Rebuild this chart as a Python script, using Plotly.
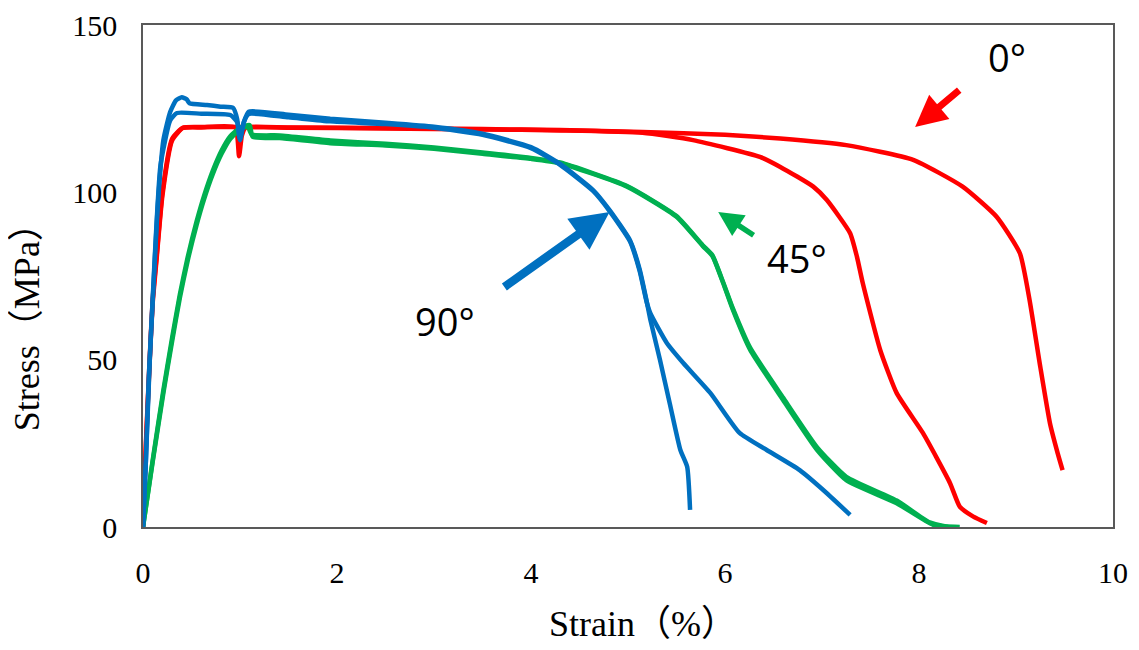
import plotly.graph_objects as go

# ---- data ----
red_a_x = [0, 0.03, 0.07, 0.10, 0.14, 0.20, 0.30, 0.41, 0.6, 1.0, 1.5, 2.5, 3.5, 4.3, 5.15, 6.0, 6.57, 7.25, 7.94, 8.45, 8.80, 9.04, 9.14, 9.25, 9.35, 9.43, 9.48]
red_a_y = [0, 25, 50.9, 68, 80.8, 100, 116, 119.3, 119.5, 119.5, 119.4, 119.2, 118.9, 118.6, 118.0, 117.2, 116.1, 114.1, 109.7, 101.7, 92.7, 81.8, 67.8, 47.9, 31.0, 22, 17.0]

red_b_x = [0, 0.03, 0.07, 0.10, 0.14, 0.20, 0.30, 0.41, 0.6, 0.95, 0.99, 1.02, 1.06, 1.5, 2.5, 3.5, 4.3, 5.15, 5.67, 6.36, 6.57, 6.91, 7.05, 7.29, 7.36, 7.42, 7.60, 7.77, 8.04, 8.32, 8.42, 8.56, 8.70]
red_b_y = [0, 24, 50, 67, 80, 99, 115.5, 119.2, 119.4, 119.4, 110.8, 117, 119.4, 119.3, 119.1, 118.8, 118.5, 117.8, 115.6, 110.6, 107.6, 101.7, 97.7, 87.8, 80.8, 72.9, 52.9, 40.0, 28.1, 13.1, 6.1, 3.1, 1.2]

blue_a_x = [0, 0.03, 0.06, 0.106, 0.15, 0.21, 0.28, 0.34, 0.40, 0.45, 0.48, 0.66, 0.80, 0.93, 0.97, 1.0, 1.04, 1.09, 1.5, 1.93, 2.5, 3.0, 3.5, 4.0, 4.3, 4.64, 4.81, 5.02, 5.12, 5.19, 5.23, 5.33, 5.43, 5.54, 5.61, 5.64]
blue_a_y = [0, 20, 45, 70.8, 95, 115.6, 124, 127.5, 128.4, 127.8, 126.6, 126.1, 125.6, 125.2, 122, 115.6, 121, 124.1, 123.2, 122.0, 120.8, 119.6, 117.5, 113.5, 108.5, 100.7, 94.7, 85.7, 77, 67.8, 62, 49.9, 37.0, 23.0, 18.0, 5.1]

blue_b_x = [0, 0.03, 0.07, 0.12, 0.18, 0.28, 0.35, 0.6, 0.9, 0.97, 1.0, 1.04, 1.09, 1.5, 1.93, 2.5, 3.0, 3.5, 4.0, 4.3, 4.64, 4.81, 5.02, 5.12, 5.19, 5.23, 5.40, 5.57, 5.85, 6.15, 6.43, 6.77, 7.05, 7.29]
blue_b_y = [0, 20, 50, 80, 108, 121.5, 123.7, 123.5, 123.1, 121, 116, 121, 123.4, 122.4, 121.2, 120.4, 119.3, 117.2, 113.2, 108.2, 100.4, 94.4, 85.4, 76.5, 67.5, 63.9, 55, 49.0, 40.0, 28.1, 23.0, 17.0, 10.1, 3.6]

green_a_x = [0, 0.1, 0.21, 0.30, 0.38, 0.46, 0.55, 0.63, 0.72, 0.81, 0.90, 1.0, 1.10, 1.13, 1.41, 1.93, 2.5, 3.0, 3.5, 4.0, 4.3, 4.99, 5.50, 5.77, 5.87, 5.98, 6.08, 6.26, 6.60, 6.95, 7.25, 7.77, 8.15, 8.42]
green_a_y = [0, 20, 40.9, 56.5, 69.5, 80.5, 91, 99, 106.5, 112.5, 116.8, 119.3, 120.1, 116.6, 116.2, 114.7, 114.0, 113.0, 111.5, 110.0, 108.7, 101.7, 92.7, 84.0, 81.0, 73.0, 65.0, 52.9, 37.9, 23.0, 14.0, 7.1, 0.6, 0]

green_b_x = [0, 0.1, 0.21, 0.30, 0.38, 0.46, 0.55, 0.63, 0.72, 0.81, 0.90, 1.0, 1.08, 1.12, 1.41, 1.93, 2.5, 3.0, 3.5, 4.0, 4.3, 4.99, 5.50, 5.77, 5.87, 5.98, 6.08, 6.26, 6.60, 6.95, 7.25, 7.77, 8.10, 8.30]
green_b_y = [0, 19.5, 40, 55.5, 68.5, 79.5, 90, 98, 105.5, 111.5, 116, 118.8, 119.6, 117.3, 117.0, 115.5, 114.5, 113.4, 111.9, 110.3, 108.9, 101.9, 92.9, 84.2, 81.2, 73.2, 65.4, 53.5, 38.6, 23.8, 15.0, 7.9, 1.5, 0]

x_ticks = [0, 2, 4, 6, 8, 10]
y_ticks = [0, 50, 100, 150]
x_title = "Strain（%）"
y_title = "Stress（MPa）"

RED = "#FF0000"
GREEN = "#00B050"
BLUE = "#0070C0"

fig = go.Figure()
for xs, ys, c in [
    (red_a_x, red_a_y, RED), (red_b_x, red_b_y, RED),
    (green_a_x, green_a_y, GREEN), (green_b_x, green_b_y, GREEN),
    (blue_a_x, blue_a_y, BLUE), (blue_b_x, blue_b_y, BLUE),
]:
    fig.add_trace(go.Scatter(x=xs, y=ys, mode="lines", line=dict(color=c, width=4.5, shape="spline", smoothing=0.5),
                             showlegend=False, cliponaxis=False, hoverinfo="skip"))

# arrows: head (x, y), tail (x, y), colour, width
arrows = [
    (7.96, 119.5, 8.43, 130.9, RED, 7),
    (5.93, 94.1, 6.31, 86.9, GREEN, 5.5),
    (4.81, 94.1, 3.71, 71.4, BLUE, 8.5),
]
for hx, hy, tx, ty, c, w in arrows:
    fig.add_annotation(x=hx, y=hy, ax=tx, ay=ty, xref="x", yref="y", axref="x", ayref="y",
                       showarrow=True, arrowhead=2, arrowsize=0.9, arrowwidth=w, arrowcolor=c, text="")

labels = [(8.91, 140.4, "0°"), (6.74, 80.4, "45°"), (3.11, 61.5, "90°")]
for lx, ly, t in labels:
    fig.add_annotation(x=lx, y=ly, xref="x", yref="y", text=t, showarrow=False,
                       font=dict(family="Open Sans, Liberation Sans, sans-serif", size=38, color="black"))

title_font = dict(family="Liberation Serif, Noto Sans CJK JP, serif", size=36, color="black")
# axis titles (placed as paper-anchored text to match the original offset)
fig.add_annotation(x=0.515, y=-0.194, xref="paper", yref="paper", text=x_title, showarrow=False,
                   font=title_font, xanchor="center", yanchor="middle")
fig.add_annotation(x=-0.1196, y=0.416, xref="paper", yref="paper", text=y_title, showarrow=False,
                   font=title_font, textangle=-90, xanchor="center", yanchor="middle")

axis_common = dict(showgrid=False, zeroline=False, showline=True, linecolor="#595959", linewidth=1.6,
                   mirror=True, ticks="", automargin=False, ticklabeloverflow="allow",
                   tickfont=dict(family="Liberation Serif, serif", size=30, color="black"))
fig.update_xaxes(range=[0, 10], tickvals=x_ticks, ticklabelstandoff=18, **axis_common)
fig.update_yaxes(range=[0, 150], tickvals=y_ticks, ticklabelstandoff=18, **axis_common)

# the page body has an 8px margin, so the figure is sized/offset to fit the 1139x650 window
fig.update_layout(width=1123, height=642, plot_bgcolor="white", paper_bgcolor="white",
                  margin=dict(l=135, r=18, t=17, b=123))

fig.write_html("out.html")
